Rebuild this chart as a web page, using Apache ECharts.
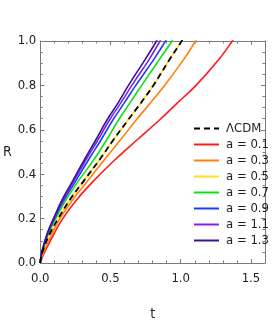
<!DOCTYPE html>
<html><head><meta charset="utf-8">
<script src="https://cdn.jsdelivr.net/npm/echarts@6/dist/echarts.min.js"></script>
<style>html,body{margin:0;padding:0;background:#fff}#c{width:273px;height:327px}</style>
</head><body><div id="c"></div>
<script>
// R values (vertical) at which each curve's t value was read
const rLevels = [0, 0.025, 0.06, 0.134, 0.2, 0.284, 0.37, 0.464, 0.554, 0.644, 0.72, 0.8, 0.914, 1.0, 1.05];
// t values for each curve at those R levels
const tLCDM = [0, 0.006, 0.021, 0.070, 0.128, 0.21, 0.31, 0.421, 0.52, 0.625, 0.715, 0.805, 0.918, 1.007, 1.051];
const tA01  = [0, 0.014, 0.04, 0.1, 0.16, 0.258, 0.38, 0.53, 0.688, 0.849, 0.975, 1.109, 1.268, 1.368, 1.418];
const tA03  = [0, 0.009, 0.032, 0.085, 0.14, 0.23, 0.338, 0.455, 0.57, 0.683, 0.782, 0.885, 1.018, 1.106, 1.153];
const tA05  = [0, 0.006, 0.021, 0.070, 0.128, 0.21, 0.31, 0.421, 0.52, 0.625, 0.715, 0.805, 0.918, 1.007, 1.051];
const tA07  = [0, 0.005, 0.018, 0.059, 0.11, 0.183, 0.272, 0.38, 0.472, 0.557, 0.637, 0.722, 0.845, 0.938, 0.983];
const tA09  = [0, 0.0047, 0.017, 0.055, 0.102, 0.17, 0.253, 0.343, 0.432, 0.517, 0.597, 0.68, 0.805, 0.892, 0.937];
const tA11  = [0, 0.0045, 0.016, 0.052, 0.097, 0.162, 0.24, 0.325, 0.41, 0.493, 0.572, 0.652, 0.772, 0.853, 0.898];
const tA13  = [0, 0.0043, 0.015, 0.05, 0.094, 0.155, 0.231, 0.313, 0.395, 0.475, 0.553, 0.628, 0.744, 0.828, 0.873];
const names = ['\u039BCDM', 'a = 0.1', 'a = 0.3', 'a = 0.5', 'a = 0.7', 'a = 0.9', 'a = 1.1', 'a = 1.3'];
const xTicks = [0, 0.5, 1.0, 1.5];
const yTicks = [0, 0.2, 0.4, 0.6, 0.8, 1.0];

const zip = t => t.map((v, i) => [v, rLevels[i]]);
const FONT = '"Liberation Sans Narrow", "DejaVu Sans Condensed", "Liberation Sans", sans-serif';
const frame = '#7a7a7a';
const lineSeries = (name, t, color, extra) => Object.assign({
  name, type: 'line', data: zip(t), smooth: 0.4,
  showSymbol: false, symbol: 'circle', clip: true,
  lineStyle: { color, width: 1.6 }, itemStyle: { color }, z: 2
}, extra || {});

const tickStyle = { color: frame };
const mkAxis = (o, split) => Object.assign({
  type: 'value',
  axisLine: { show: true, onZero: false, lineStyle: { color: frame, width: 1 } },
  axisTick: { show: true, inside: true, length: 4, lineStyle: tickStyle },
  minorTick: { show: true, splitNumber: split, length: 2.5, lineStyle: tickStyle },
  splitLine: { show: false }
}, o);
const fmt1 = v => (xTicks.concat(yTicks).some(k => Math.abs(k - v) < 1e-9) ? v.toFixed(1) : '');
const labelStyle = { formatter: fmt1, fontFamily: FONT, fontSize: 13, color: '#222' };

const chart = echarts.init(document.getElementById('c'), null, { renderer: 'canvas' });
chart.setOption({
  animation: false,
  backgroundColor: '#fff',
  grid: { left: 34, right: 8, top: 41, bottom: 64, containLabel: false },
  xAxis: [
    mkAxis({ min: 0, max: 1.6, interval: 0.5, position: 'bottom',
      name: 't', nameLocation: 'middle', nameGap: 44,
      nameTextStyle: { fontFamily: FONT, fontSize: 14, color: '#222' },
      axisLabel: Object.assign({ margin: 9 }, labelStyle) }, 5),
    mkAxis({ min: 0, max: 1.6, interval: 0.5, position: 'top', axisLabel: { show: false } }, 5)
  ],
  yAxis: [
    mkAxis({ min: 0, max: 1, interval: 0.2, position: 'left',
      name: 'R', nameLocation: 'middle', nameGap: 25, nameRotate: 0,
      nameTextStyle: { fontFamily: FONT, fontSize: 14, color: '#222' },
      axisLabel: Object.assign({ margin: 4 }, labelStyle) }, 4),
    mkAxis({ min: 0, max: 1, interval: 0.2, position: 'right', axisLabel: { show: false } }, 4)
  ],
  legend: {
    data: names, orient: 'vertical', left: 188, top: 117,
    itemWidth: 25, itemHeight: 16, itemGap: 3,
    itemStyle: { opacity: 0 },
    textStyle: { fontFamily: FONT, fontSize: 13, color: '#222', padding: [0, 0, 0, 2] }
  },
  series: [
    lineSeries(names[1], tA01, '#ff1a1a'),
    lineSeries(names[2], tA03, '#ff7f10'),
    lineSeries(names[3], tA05, '#ffe01a'),
    lineSeries(names[4], tA07, '#10e010'),
    lineSeries(names[5], tA09, '#1a3cff'),
    lineSeries(names[6], tA11, '#8020f0'),
    lineSeries(names[7], tA13, '#3a1490'),
    lineSeries(names[0], tLCDM, '#000000', { lineStyle: { color: '#000', width: 1.8, type: [6, 4] }, z: 3 })
  ]
});
</script></body></html>
